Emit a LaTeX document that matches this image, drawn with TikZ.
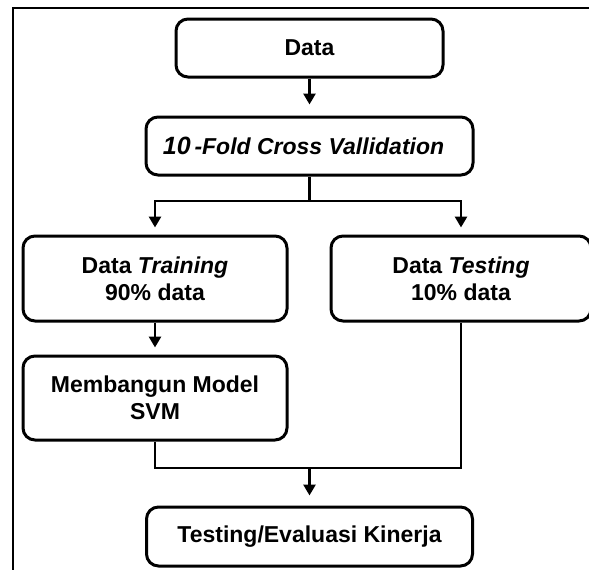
\documentclass[tikz,border=0pt]{standalone}
\usepackage{fontspec}
\setmainfont{Liberation Sans}
\usepackage{tikz}
\usetikzlibrary{arrows.meta}

\begin{document}
\begin{tikzpicture}[
  x=1pt, y=-1pt,
  box/.style={draw, line width=3pt, rounded corners=12pt, align=center, inner sep=0pt,
    font=\fontsize{23}{27}\selectfont\bfseries},
  arr/.style={-{Triangle[length=11pt,width=12pt]}, line width=2.8pt, shorten >=7pt},
  link/.style={line width=2.8pt},
  frame/.style={line width=2.6pt}
]
\useasboundingbox (0,0) rectangle (589,570);
\draw[frame] (13,8) rectangle (610,590);

\node[box, minimum width=267pt, minimum height=58pt] (data) at (309.5,48) {Data};
\node[box, minimum width=327pt, minimum height=58pt] (cv) at (309.5,146) {\itshape{\fontsize{25}{27}\selectfont 10}\,-Fold Cross Vallidation\hspace{12pt}};
\node[box, minimum width=264pt, minimum height=85pt] (train) at (155,278.5) {Data \textit{Training}\\90\% data};
\node[box, minimum width=260pt, minimum height=85pt] (test) at (461,278.5) {Data \textit{Testing}\\10\% data};
\node[box, minimum width=264pt, minimum height=84pt] (svm) at (155,398) {Membangun Model\\SVM};
\node[box, minimum width=326pt, minimum height=59pt] (eval) at (309.5,536.5) {Testing/Evaluasi Kinerja};

\coordinate (split) at (309.5,201);
\coordinate (merge) at (309.5,468);

\draw[arr, shorten >=11pt] (data) -- (cv);
\draw[link] (cv) -- (split);
\draw[arr] (split) -| (train);
\draw[arr] (split) -| (test);
\draw[arr] (train) -- (svm);
\draw[link] (svm.south) |- (merge);
\draw[link] (test.south) |- (merge);
\draw[arr, shorten >=10pt] (merge) -- (eval);
\end{tikzpicture}
\end{document}
